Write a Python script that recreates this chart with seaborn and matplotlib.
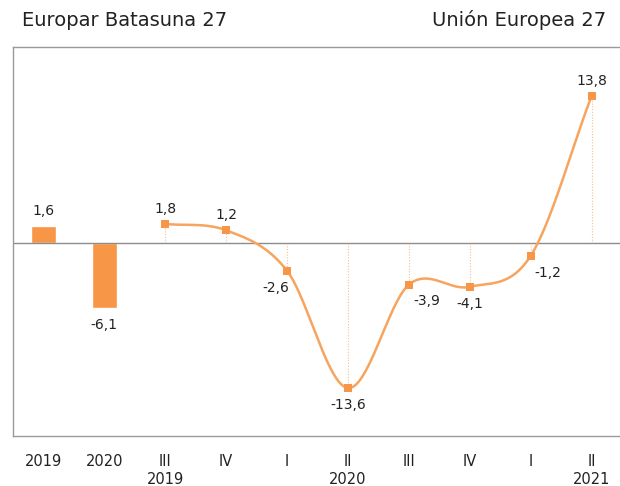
import numpy as np
import pandas as pd
import matplotlib
matplotlib.use("Agg")
import matplotlib.pyplot as plt
import seaborn as sns

# data
categories = ["2019", "2020", "III\n2019", "IV", "I", "II\n2020", "III", "IV", "I", "II\n2021"]
annual_labels = ["2019", "2020"]
annual_values = [1.6, -6.1]
quarter_values = [1.8, 1.2, -2.6, -13.6, -3.9, -4.1, -1.2, 13.8]

# label nudges in points (x), to mimic the reference placement
label_dx = [0, 0, 0, 0, -8, 0, 13, 0, 12, 0]

orange = "#F79646"
line_orange = "#F7A45E"

sns.set_style("white")
plt.rcParams["font.family"] = ["DejaVu Sans"]

fig = plt.figure(figsize=(6.2, 4.86), dpi=100)
ax = fig.add_axes([13 / 620, 1 - 436 / 486, 609 / 620, 389 / 486])

# annual bars
bars = pd.DataFrame({"cat": annual_labels, "val": annual_values})
sns.barplot(data=bars, x="cat", y="val", color=orange, width=0.4,
            saturation=1, ax=ax)

# quarterly points, positions 2..9 on the categorical axis
qx = np.arange(2, 2 + len(quarter_values))
qy = np.array(quarter_values, dtype=float)

# smooth curve through the points (Catmull-Rom, extrapolated ends)
py = np.concatenate([[2 * qy[0] - qy[1]], qy, [2 * qy[-1] - qy[-2]]])
sx, sy = [], []
t = np.linspace(0, 1, 40)
for i in range(len(qy) - 1):
    p0, p1, p2, p3 = py[i], py[i + 1], py[i + 2], py[i + 3]
    seg = 0.5 * ((2 * p1) + (-p0 + p2) * t + (2 * p0 - 5 * p1 + 4 * p2 - p3) * t ** 2
                 + (-p0 + 3 * p1 - 3 * p2 + p3) * t ** 3)
    sx.extend(qx[i] + t)
    sy.extend(seg)
ax.plot(sx, sy, color=line_orange, lw=1.8, zorder=3)

# thin dotted drop lines to zero
for x, y in zip(qx, qy):
    ax.plot([x, x], [0, y], color=line_orange, lw=0.8, ls=(0, (1, 1.5)),
            alpha=0.7, zorder=2)

sns.scatterplot(x=qx, y=qy, marker="s", s=30, color=orange, edgecolor=orange,
                linewidth=0, zorder=4, ax=ax)

ax.axhline(0, color="#8c8c8c", lw=1, zorder=1)

# value labels
def fmt(v):
    return f"{v:.1f}".replace(".", ",")

all_x = [0, 1] + list(qx)
all_y = annual_values + quarter_values
for x, y, dx in zip(all_x, all_y, label_dx):
    if y >= 0:
        ax.annotate(fmt(y), (x, y), xytext=(dx, 6), textcoords="offset points",
                    ha="center", va="bottom", fontsize=10, color="#222222")
    else:
        ax.annotate(fmt(y), (x, y), xytext=(dx, -7), textcoords="offset points",
                    ha="center", va="top", fontsize=10, color="#222222")

ax.set_xlim(-0.5, 9.5)
ax.set_ylim(-18.1, 18.4)
ax.set_xticks(range(len(categories)))
ax.set_xticklabels(categories, fontsize=10.5, color="#222222", va="top",
                   linespacing=1.25)
ax.tick_params(axis="x", length=0, pad=13)
ax.set_yticks([])
ax.set_xlabel("")
ax.set_ylabel("")
for s in ax.spines.values():
    s.set_color("#9a9a9a")
    s.set_linewidth(1)

fig.text(22 / 620, 1 - 20 / 486, "Europar Batasuna 27", fontsize=14,
         ha="left", va="center", color="#222222")
fig.text(606 / 620, 1 - 20 / 486, "Unión Europea 27", fontsize=14,
         ha="right", va="center", color="#222222")

fig.savefig("out.png", dpi=100)
